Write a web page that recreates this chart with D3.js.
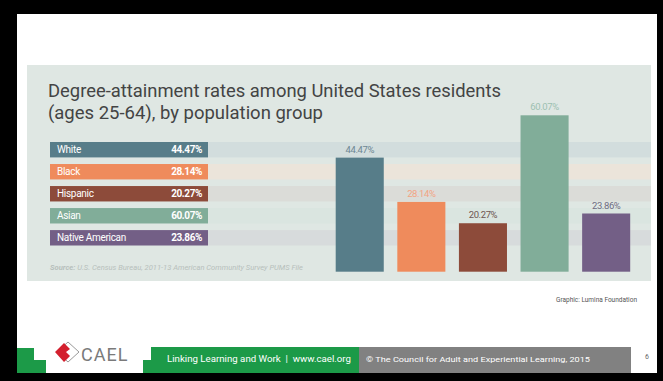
<html>
<head>
    <meta charset="UTF-8">
    <title>Degree attainment</title>
    <script src="https://d3js.org/d3.v7.min.js"></script>
    <style>
        body { margin: 0; background: #000; }
        text { font-family: Roboto, sans-serif; }
    </style>
</head>
<body>
    <svg width="663" height="381"></svg>
    <script>
        // data
        var groups = ['White', 'Black', 'Hispanic', 'Asian', 'Native American'];
        var rates = [44.47, 28.14, 20.27, 60.07, 23.86];
        var barColors = ['#577d89', '#ef8b5c', '#8d4b3a', '#81ad99', '#735f86'];
        var stripeColors = ['#d2dddd', '#ebe4da', '#dbdcd8', '#dae5e0', '#d7dbdc'];
        var labelColors = ['#6d8793', '#f2a484', '#6e5650', '#9dc0b1', '#6f6c82'];

        var svg = d3.select('svg');

        // slide (white) inside black frame
        svg.append('rect').attr('x', 17).attr('y', 14).attr('width', 640).attr('height', 359).attr('fill', '#fff');

        // chart panel
        var panel = { left: 27, top: 65, right: 651, bottom: 281 };
        svg.append('rect')
            .attr('x', panel.left).attr('y', panel.top)
            .attr('width', panel.right - panel.left).attr('height', panel.bottom - panel.top)
            .attr('fill', '#dfe7e3');

        svg.append('text').attr('x', 48).attr('y', 97)
            .attr('fill', '#434444').attr('font-size', 18.5)
            .attr('textLength', 453).attr('lengthAdjust', 'spacingAndGlyphs')
            .text('Degree-attainment rates among United States residents');
        svg.append('text').attr('x', 48).attr('y', 119)
            .attr('fill', '#434444').attr('font-size', 18.5)
            .attr('textLength', 275).attr('lengthAdjust', 'spacingAndGlyphs')
            .text('(ages 25-64), by population group');

        // legend rows + background stripes
        var y_rows = d3.scaleBand().domain(groups).range([142, 245.5]).paddingInner(0.3);
        var rows = svg.append('g').selectAll('g').data(groups).enter().append('g');
        rows.append('rect')
            .attr('x', 208).attr('y', d => y_rows(d))
            .attr('width', panel.right - 208).attr('height', y_rows.bandwidth())
            .attr('fill', (d, i) => stripeColors[i]);
        rows.append('rect')
            .attr('x', 50).attr('y', d => y_rows(d))
            .attr('width', 158).attr('height', y_rows.bandwidth())
            .attr('fill', (d, i) => barColors[i]);
        rows.append('text')
            .attr('x', 57).attr('y', d => y_rows(d) + y_rows.bandwidth() / 2)
            .attr('dy', '0.35em').attr('fill', '#fff').attr('font-size', 10)
            .attr('letter-spacing', -0.3)
            .text(d => d);
        rows.append('text')
            .attr('x', 202).attr('y', d => y_rows(d) + y_rows.bandwidth() / 2)
            .attr('dy', '0.35em').attr('fill', '#fff').attr('font-size', 10)
            .attr('font-weight', 'bold').attr('text-anchor', 'end')
            .attr('letter-spacing', -0.4)
            .text((d, i) => rates[i].toFixed(2) + '%');

        svg.append('text').attr('x', 50).attr('y', 270)
            .attr('fill', '#b7c0bc').attr('font-size', 7.5).attr('font-style', 'italic')
            .attr('textLength', 253).attr('lengthAdjust', 'spacingAndGlyphs')
            .html('<tspan font-weight="bold">Source:</tspan> U.S. Census Bureau, 2011-13 American Community Survey PUMS File');

        // bars
        var x_scale = d3.scaleBand().domain(groups).range([335.7, 630.2]).paddingInner(0.22);
        var y_scale = d3.scaleLinear().domain([2.4, 60.07]).range([271.7, 115.3]);
        var bars = svg.append('g').selectAll('g').data(groups).enter().append('g');
        bars.append('rect')
            .attr('x', d => x_scale(d))
            .attr('y', (d, i) => y_scale(rates[i]))
            .attr('width', x_scale.bandwidth())
            .attr('height', (d, i) => y_scale(2.4) - y_scale(rates[i]))
            .attr('fill', (d, i) => barColors[i]);
        bars.append('text')
            .attr('x', d => x_scale(d) + x_scale.bandwidth() / 2)
            .attr('y', (d, i) => y_scale(rates[i]) - 5)
            .attr('text-anchor', 'middle').attr('font-size', 9.5)
            .attr('letter-spacing', -0.4)
            .attr('fill', (d, i) => labelColors[i])
            .text((d, i) => rates[i].toFixed(2) + '%');

        svg.append('text').attr('x', 556).attr('y', 302)
            .attr('fill', '#555').attr('font-size', 7.5).attr('font-family', "'DejaVu Sans Mono', monospace")
            .attr('textLength', 81).attr('lengthAdjust', 'spacingAndGlyphs')
            .text('Graphic: Lumina Foundation');

        // footer
        var foot = svg.append('g');
        foot.append('path').attr('fill', '#1c9a48')
            .attr('d', 'M17,348 H34 V360 H46 V373 H17 Z');
        foot.append('path').attr('fill', '#1c9a48')
            .attr('d', 'M143,360 H151 V347 H359 V373 H143 Z');
        foot.append('rect').attr('x', 359).attr('y', 347).attr('width', 272).attr('height', 26).attr('fill', '#818181');
        // logo
        foot.append('path').attr('fill', 'none').attr('stroke', '#9a9a9a').attr('stroke-width', 1)
            .attr('d', 'M68,342 L79,352 L68,362 L57,352 Z');
        foot.append('path').attr('fill', '#d3202e')
            .attr('d', 'M64,343 L70,349 L66,352 L70,356 L64,362 L55,352 Z');
        foot.append('text').attr('x', 81).attr('y', 361)
            .attr('fill', '#7a7a7a').attr('font-size', 18).attr('font-family', "'Liberation Serif', 'DejaVu Serif', serif")
            .attr('letter-spacing', 1).text('CAEL');
        foot.append('text').attr('x', 167).attr('y', 362)
            .attr('fill', '#fff').attr('font-size', 8.5).attr('font-family', "'DejaVu Sans', sans-serif")
            .attr('textLength', 184).attr('lengthAdjust', 'spacingAndGlyphs')
            .attr('style', 'white-space: pre')
            .text('Linking Learning and Work  |  www.cael.org');
        foot.append('text').attr('x', 366).attr('y', 362)
            .attr('fill', '#fff').attr('font-size', 8).attr('font-family', "'DejaVu Sans', sans-serif")
            .attr('textLength', 224).attr('lengthAdjust', 'spacingAndGlyphs')
            .text('\u00a9 The Council for Adult and Experiential Learning, 2015');
        foot.append('text').attr('x', 645).attr('y', 359)
            .attr('fill', '#666').attr('font-size', 7).text('6');
    </script>
</body>
</html>
